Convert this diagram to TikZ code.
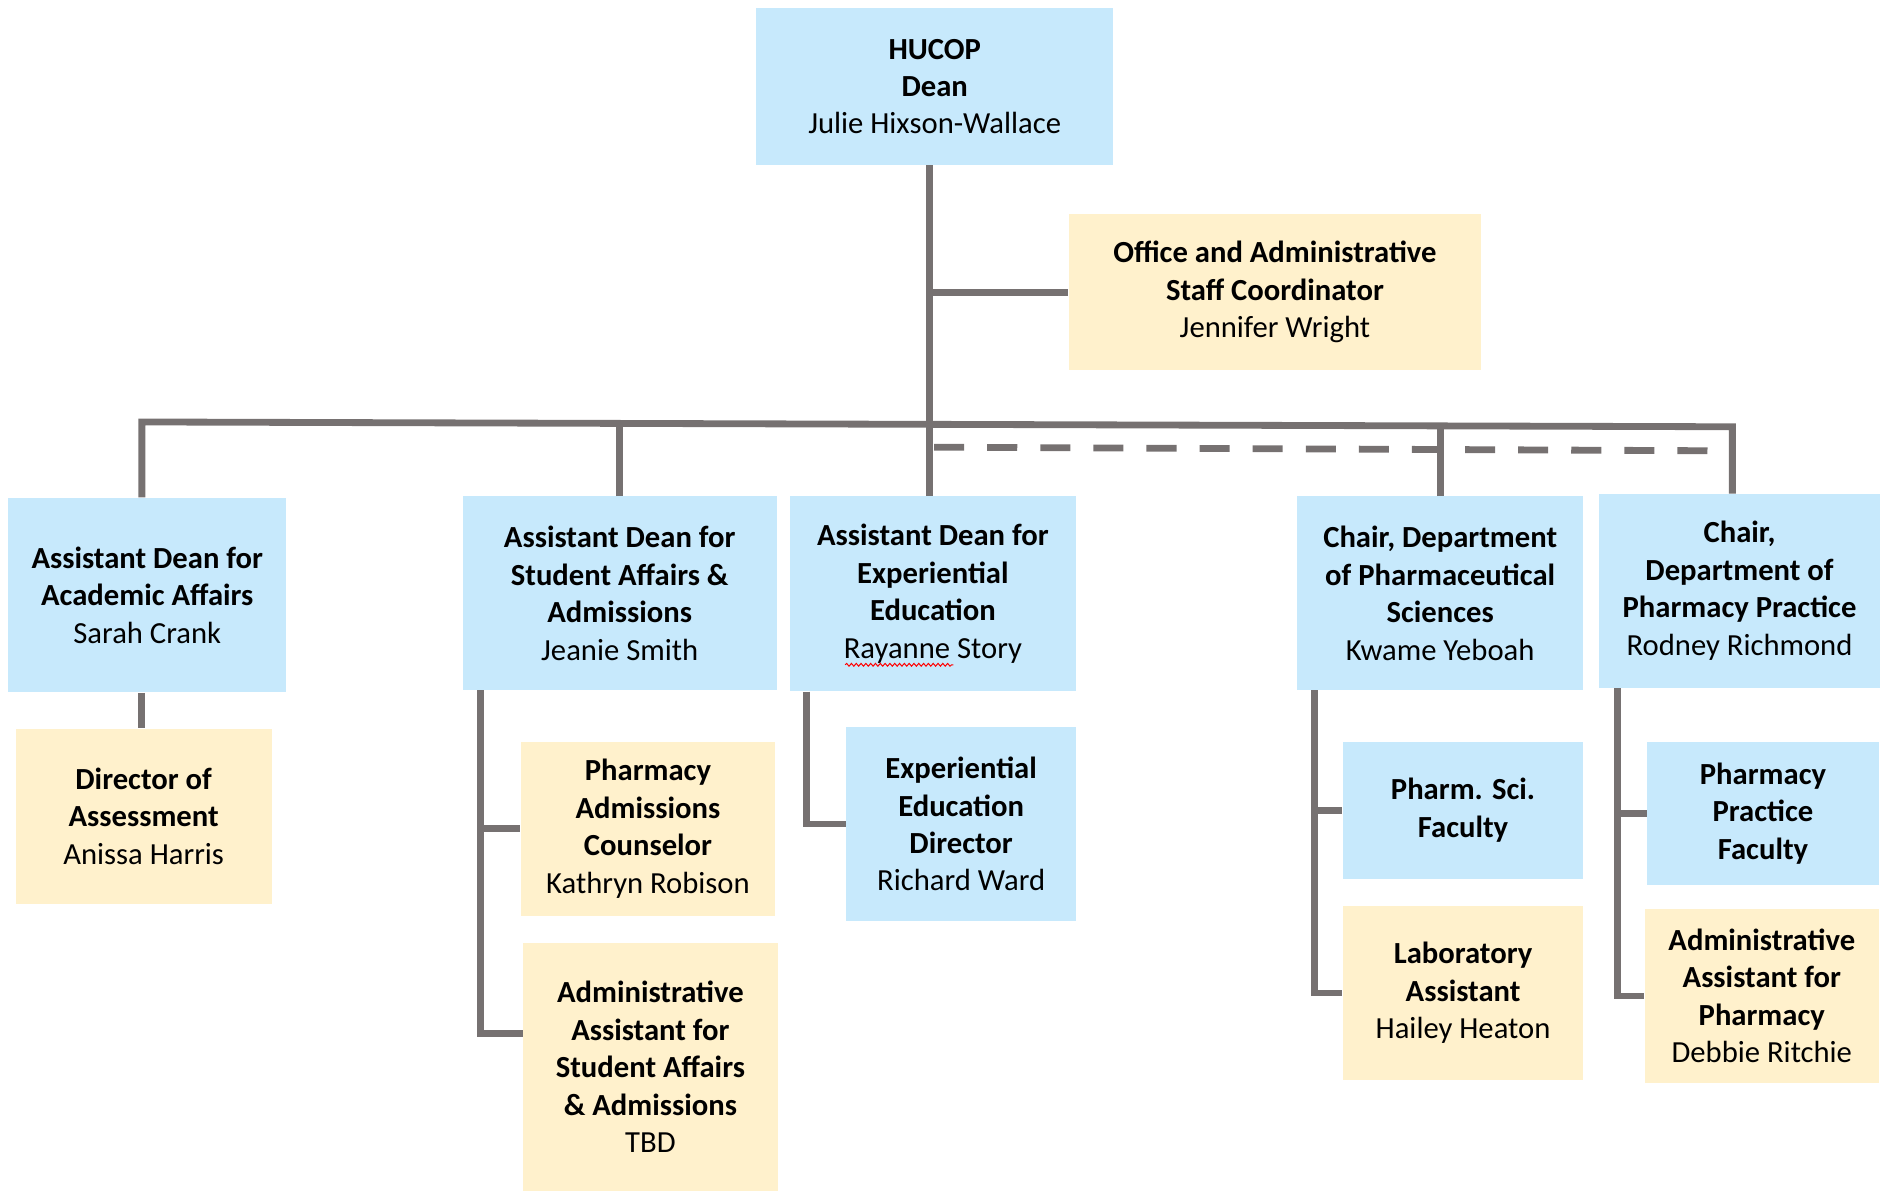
\documentclass[tikz,border=0pt]{standalone}
\usepackage{fontspec}
\setmainfont{Carlito}
\usetikzlibrary{calc,decorations.pathmorphing}
\definecolor{bxblue}{RGB}{199,233,252}
\definecolor{bxyellow}{RGB}{255,241,204}
\definecolor{lngray}{RGB}{118,113,113}
\begin{document}
\begin{tikzpicture}[x=0.6pt,y=-0.6pt,
  box/.style 2 args={rectangle, inner sep=0pt, minimum width=#1*0.6pt, minimum height=#2*0.6pt,
    align=center, font=\fontsize{15.3}{18.7}\selectfont, text=black},
  bluebox/.style={fill=bxblue},
  yellowbox/.style={fill=bxyellow},
  conn/.style={draw=lngray, line width=3.4pt},
  dashconn/.style={conn, dash pattern=on 15pt off 11.5pt}
]
\useasboundingbox (0,0) rectangle (1568,991);

% nodes
\node[box={297}{130}, bluebox] (dean) at (777.5,72) {\textbf{HUCOP}\\\textbf{Dean}\\Julie Hixson-Wallace};
\node[box={343}{130}, yellowbox] (office) at (1060.5,243) {\textbf{Office and Administrative}\\\textbf{Staff Coordinator}\\Jennifer Wright};
\node[box={231}{162}, bluebox] (acad) at (122.5,495) {\textbf{Assistant Dean for}\\\textbf{Academic Affairs}\\Sarah Crank};
\node[box={213}{146}, yellowbox] (dir) at (119.5,679) {\textbf{Director of}\\\textbf{Assessment}\\Anissa Harris};
\node[box={261}{161}, bluebox] (sa) at (515.5,493.5) {\textbf{Assistant Dean for}\\\textbf{Student Affairs \&}\\\textbf{Admissions}\\Jeanie Smith};
\node[box={212}{145}, yellowbox] (couns) at (539,689.5) {\textbf{Pharmacy}\\\textbf{Admissions}\\\textbf{Counselor}\\Kathryn Robison};
\node[box={212}{207}, yellowbox] (admsa) at (541,887.5) {\textbf{Administrative}\\\textbf{Assistant for}\\\textbf{Student Affairs}\\\textbf{\& Admissions}\\TBD};
\node[box={238}{162}, bluebox] (exp) at (776,494) {\textbf{Assistant Dean for}\\\textbf{Experiential}\\\textbf{Education}\\Rayanne Story};
\node[box={191}{161}, bluebox] (expdir) at (799.5,685.5) {\textbf{Experiential}\\\textbf{Education}\\\textbf{Director}\\Richard Ward};
\node[box={238}{161}, bluebox] (ps) at (1198,493.5) {\textbf{Chair, Department}\\\textbf{of Pharmaceutical}\\\textbf{Sciences}\\Kwame Yeboah};
\node[box={200}{114}, bluebox] (psfac) at (1217,674) {\textbf{Pharm. Sci.}\\\textbf{Faculty}};
\node[box={200}{144}, yellowbox] (lab) at (1217,826) {\textbf{Laboratory}\\\textbf{Assistant}\\Hailey Heaton};
\node[box={234}{161}, bluebox] (prac) at (1447,491.5) {\textbf{Chair,}\\\textbf{Department of}\\\textbf{Pharmacy Practice}\\Rodney Richmond};
\node[box={193}{119}, bluebox] (pracfac) at (1466.5,676.5) {\textbf{Pharmacy}\\\textbf{Practice}\\\textbf{Faculty}};
\node[box={195}{145}, yellowbox] (admph) at (1465.5,828.5) {\textbf{Administrative}\\\textbf{Assistant for}\\\textbf{Pharmacy}\\Debbie Ritchie};

% spell-check squiggle under "Rayanne"
\draw[red, line width=0.5pt, decorate, decoration={snake, amplitude=0.7pt, segment length=2.4pt}]
  (703,553) -- (793,553);

% connector helper coordinates
\coordinate (tx) at (773,0);
\coordinate (hL) at (118,351);
\coordinate (hR) at (1441,355);
\coordinate (dL) at (777,372);
\coordinate (dR) at (1432,375);

% trunk and top branches
\draw[conn] (dean.south -| tx) -- (exp.north -| tx);
\draw[conn] (office.west -| tx) -- (office.west);
\draw[conn] (acad.north -| hL) -- (hL) -- (hR) -- (prac.north -| hR);
\draw[conn] (sa.north) -- ($(sa.north)+(0,-61)$);
\draw[conn] (ps.north) -- ($(ps.north)+(0,-59)$);
\draw[dashconn] (dL) -- (dR);

% lower branches
\draw[conn] (acad.south -| hL) -- (dir.north -| hL);
\coordinate (saV) at ($(sa.south west)+(15,0)$);
\draw[conn] (saV) |- (couns.west);
\draw[conn] (saV) |- ($(admsa.north west)+(0,76)$);
\draw[conn] ($(exp.south west)+(14,0)$) |- (expdir.west);
\coordinate (psV) at ($(ps.south west)+(15,0)$);
\draw[conn] (psV) |- (psfac.west);
\draw[conn] (psV) |- (lab.west);
\coordinate (prV) at ($(prac.south west)+(16,0)$);
\draw[conn] (prV) |- (pracfac.west);
\draw[conn] (prV) |- (admph.west);
\end{tikzpicture}
\end{document}
